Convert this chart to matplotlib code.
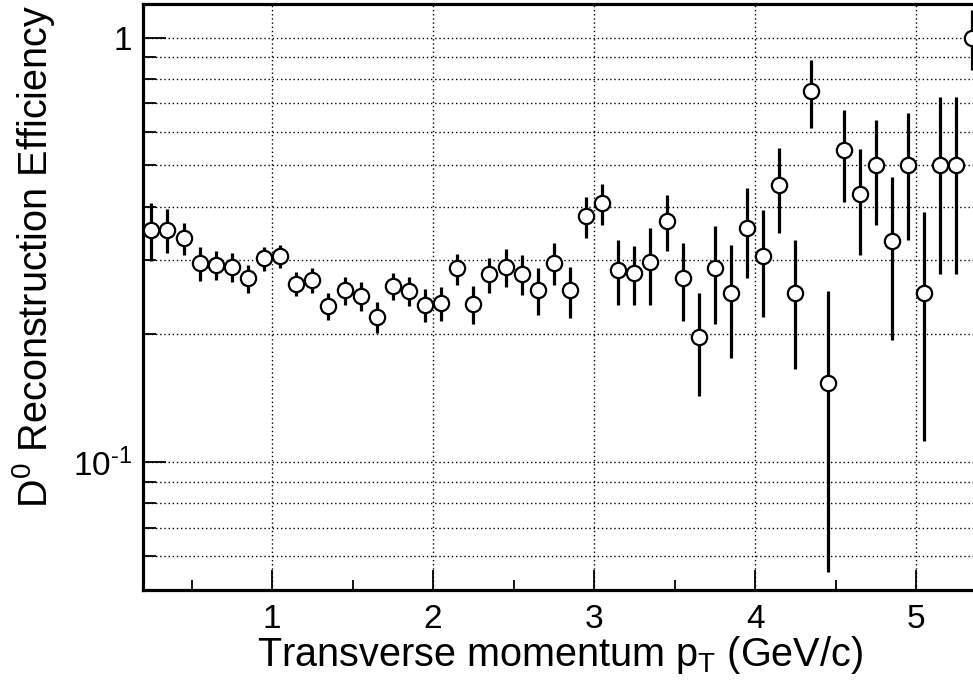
import matplotlib
matplotlib.use('Agg')
import matplotlib.pyplot as plt
from matplotlib.ticker import FixedLocator, FixedFormatter, NullFormatter

plt.rcParams['font.family'] = ['Liberation Sans', 'DejaVu Sans']
plt.rcParams['mathtext.fontset'] = 'custom'
plt.rcParams['mathtext.rm'] = 'Liberation Sans'
plt.rcParams['mathtext.it'] = 'Liberation Sans:italic'
plt.rcParams['mathtext.default'] = 'regular'

# ── pT bin centres (0.1 GeV/c bins) ──────────────────────────────────────────
pt = [0.25, 0.35, 0.45, 0.55, 0.65, 0.75, 0.85, 0.95, 1.05, 1.15,
      1.25, 1.35, 1.45, 1.55, 1.65, 1.75, 1.85, 1.95, 2.05, 2.15,
      2.25, 2.35, 2.45, 2.55, 2.65, 2.75, 2.85, 2.95, 3.05, 3.15,
      3.25, 3.35, 3.45, 3.55, 3.65, 3.75, 3.85, 3.95, 4.05, 4.15,
      4.25, 4.35, 4.45, 4.55, 4.65, 4.75, 4.85, 4.95, 5.05, 5.15,
      5.25, 5.35]

# ── D0 reconstruction efficiency and its error ───────────────────────────────
eff = [0.353, 0.353, 0.337, 0.294, 0.292, 0.288, 0.271, 0.302, 0.306, 0.263,
       0.269, 0.233, 0.254, 0.246, 0.220, 0.260, 0.253, 0.235, 0.237, 0.286,
       0.236, 0.277, 0.288, 0.277, 0.254, 0.295, 0.254, 0.380, 0.407, 0.284,
       0.279, 0.296, 0.370, 0.272, 0.197, 0.286, 0.250, 0.357, 0.306, 0.449,
       0.250, 0.749, 0.154, 0.543, 0.428, 0.500, 0.332, 0.500, 0.250, 0.500,
       0.500, 1.000]
err = [0.055, 0.042, 0.029, 0.027, 0.023, 0.023, 0.021, 0.020, 0.019, 0.017,
       0.018, 0.017, 0.019, 0.019, 0.018, 0.019, 0.020, 0.021, 0.022, 0.024,
       0.024, 0.026, 0.029, 0.030, 0.032, 0.034, 0.035, 0.042, 0.046, 0.050,
       0.044, 0.061, 0.056, 0.057, 0.054, 0.074, 0.074, 0.085, 0.086, 0.102,
       0.084, 0.137, 0.099, 0.133, 0.120, 0.138, 0.138, 0.166, 0.138, 0.223,
       0.223, 0.160]

y_major = [0.1, 1.0]
y_major_labels = [r'10$^{\text{-}1}$', '1']
y_minor = [0.06, 0.07, 0.08, 0.09, 0.2, 0.3, 0.4, 0.5, 0.6, 0.7, 0.8, 0.9]
x_major = [1, 2, 3, 4, 5]
x_minor = [0.5, 1.5, 2.5, 3.5, 4.5]

W, H = 973, 683
fig = plt.figure(figsize=(W / 100, H / 100), dpi=100)
fig.patch.set_facecolor('white')
# frame runs past the right edge of the canvas
ax = fig.add_axes([143.3 / W, 93 / H, 853.3 / W, 586 / H])

ax.errorbar(pt, eff, yerr=err, fmt='o', ms=11, mfc='white', mec='black',
            mew=1.6, ecolor='black', elinewidth=2.3, capsize=0, zorder=3)

ax.set_yscale('log')
ax.set_xlim(0.2, 5.5)
ax.set_ylim(0.05, 1.2)

ax.yaxis.set_major_locator(FixedLocator(y_major))
ax.yaxis.set_major_formatter(FixedFormatter(y_major_labels))
ax.yaxis.set_minor_locator(FixedLocator(y_minor))
ax.yaxis.set_minor_formatter(NullFormatter())
ax.xaxis.set_major_locator(FixedLocator(x_major))
ax.xaxis.set_minor_locator(FixedLocator(x_minor))

ax.tick_params(which='both', direction='in', colors='black', width=1.3,
               labelsize=24)
ax.tick_params(axis='y', which='major', length=16.5, pad=8)
ax.tick_params(axis='y', which='minor', length=9.4)
ax.tick_params(axis='x', which='major', length=14.4, pad=10)
ax.tick_params(axis='x', which='minor', length=7.2)

dots = dict(color='black', linestyle=(0, (1, 2)), linewidth=1.0)
ax.grid(True, which='both', axis='y', **dots)
ax.grid(True, which='major', axis='x', **dots)
ax.set_axisbelow(True)

for sp in ax.spines.values():
    sp.set_linewidth(2.3)
ax.spines['right'].set_visible(False)

fig.text(560 / W, 1 - 666 / H, 'Transverse momentum p$_{T}$ (GeV/c)',
         ha='center', va='baseline', fontsize=28.5)
fig.text(10 / W, 1 - 5 / H, 'D$^{0}$ Reconstruction Efficiency',
         rotation=90, ha='left', va='top', fontsize=28.5)

fig.savefig('out.png', dpi=100, facecolor='white')
